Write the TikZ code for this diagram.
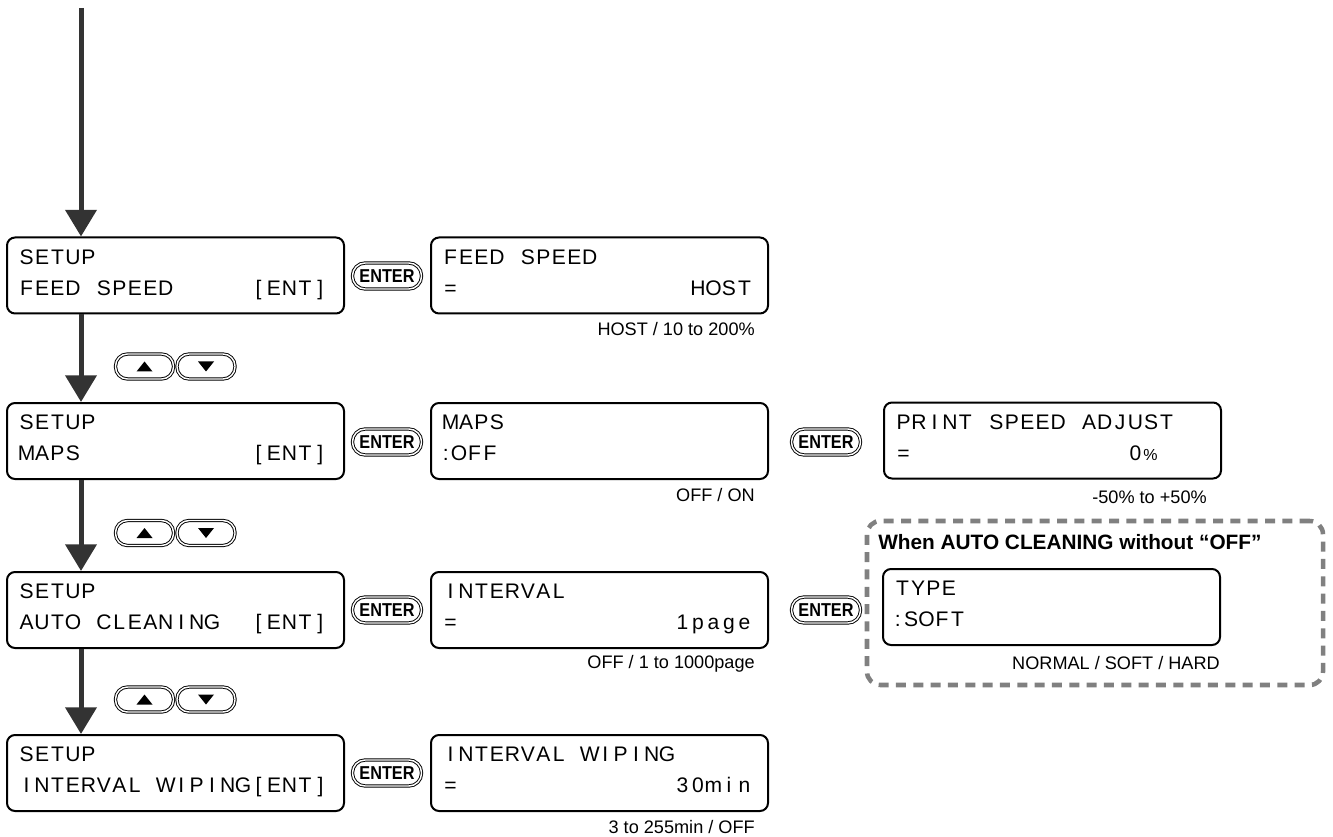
\documentclass[tikz,border=0pt]{standalone}
\usepackage{fontspec}
\setmainfont{Liberation Sans}
\usepackage{graphicx}
\usetikzlibrary{positioning,arrows.meta}

\definecolor{arrowgray}{HTML}{333333}
\definecolor{framegray}{HTML}{808080}

% one LCD character cell, '.' is a blank cell
\newlength\lcdcell
\setlength\lcdcell{11.6pt}
\newcommand\lcdfont{\fontsize{15.8pt}{23.25pt}\selectfont}
\newcommand\entertext{\scalebox{0.87}[1]{ENTER}}
\ExplSyntaxOn
\NewDocumentCommand \lcd { m }
  {
    \rule[-6.75pt]{0pt}{19.75pt}
    \str_map_inline:nn { #1 }
      {
        \str_case:nnF { ##1 }
          {
            { . } { \hspace*{\lcdcell} }
            { : } { \makebox[0.55\lcdcell][l]{:} }
          }
          { \makebox[\lcdcell][c]{##1} }
      }
  }
\ExplSyntaxOff

\begin{document}
\begin{tikzpicture}[x=0.75pt,y=-0.75pt,
  screen/.style={draw, line width=1.5pt, rounded corners=6pt, minimum width=252.75pt,
    minimum height=57pt, text width=235pt, align=left, inner sep=0pt, font=\lcdfont},
  enterkey/.style={draw, line width=0.7pt, double, double distance=1.1pt, rounded corners=9.5pt,
    minimum width=51.75pt, minimum height=19.5pt, inner sep=0pt,
    font=\bfseries\fontsize{14pt}{14pt}\selectfont},
  arrowkey/.style={draw, line width=0.7pt, double, double distance=1.1pt, rounded corners=9pt,
    minimum width=43.5pt, minimum height=18.75pt, inner sep=0pt},
  flow/.style={draw=arrowgray, line width=3.75pt, -{Triangle[width=23pt,length=20pt]}},
  note/.style={font=\fontsize{13.6pt}{15pt}\selectfont, inner sep=0pt, anchor=base east},
  condtitle/.style={font=\bfseries\fontsize{15.6pt}{18pt}\selectfont, inner sep=0pt, anchor=base west},
  dashframe/.style={draw=framegray, line width=3.4pt, dash pattern=on 7.5pt off 5.5pt, rounded corners=10pt}]
  \useasboundingbox (0,0) rectangle (1333,837);

  % setup menu, left column
  \coordinate (top) at (81,8);
  \node[screen] (setupfeed)  at (175.5,275.5) {\lcd{SETUP}\\\lcd{FEED.SPEED.....[ENT]}};
  \node[screen] (setupmaps)  at (175.5,441)   {\lcd{SETUP}\\\lcd{MAPS...........[ENT]}};
  \node[screen] (setupclean) at (175.5,610)   {\lcd{SETUP}\\\lcd{AUTO.CLEANING..[ENT]}};
  \node[screen] (setupwipe)  at (175.5,773)   {\lcd{SETUP}\\\lcd{INTERVAL.WIPING[ENT]}};

  \draw[flow] (top) -- (setupfeed.north -| top);
  \draw[flow] (setupfeed.south -| top) -- (setupmaps.north -| top);
  \draw[flow] (setupmaps.south -| top) -- (setupclean.north -| top);
  \draw[flow] (setupclean.south -| top) -- (setupwipe.north -| top);

  % up/down keys between the setup screens
  \foreach \k/\y in {a/366.5, b/533, c/699.5} {
    \node[arrowkey] (up\k) at (144.5,\y) {};
    \node[arrowkey] (down\k) at (206,\y) {};
    \fill ([shift={(-8,5)}]up\k.center) -- ++(16,0) -- ++(-8,-10) -- cycle;
    \fill ([shift={(-8,-5)}]down\k.center) -- ++(16,0) -- ++(-8,10) -- cycle;
  }

  % enter keys
  \node[enterkey] (entera) at (387,276) {\entertext};
  \node[enterkey] (enterb) at (387,442) {\entertext};
  \node[enterkey] (enterc) at (387,610) {\entertext};
  \node[enterkey] (enterd) at (387,773) {\entertext};
  \node[enterkey] (entere) at (826,442) {\entertext};
  \node[enterkey] (enterf) at (826,610) {\entertext};

  % value screens
  \node[screen] (feedspeed) at (599.5,275.5) {\lcd{FEED.SPEED}\\\lcd{=...............HOST}};
  \node[screen] (maps)      at (599.5,441)   {\lcd{MAPS}\\\lcd{:OFF}};
  \node[screen] (interval)  at (599.5,610)   {\lcd{INTERVAL}\\\lcd{=..............1page}};
  \node[screen] (wiping)    at (599.5,773)   {\lcd{INTERVAL.WIPING}\\\lcd{=..............30min}};
  \node[screen] (printspeed) at (1052.5,440.5)
    {\lcd{PRINT.SPEED.ADJUST}\\\lcd{=..............0}\makebox[\lcdcell][l]{\fontsize{12pt}{12pt}\selectfont\%}};

  \node[note] (feednote)  at ([shift={(-14,21)}]feedspeed.south east) {HOST / 10 to 200\%};
  \node[note] (mapsnote)  at ([shift={(-14,21)}]maps.south east) {OFF / ON};
  \node[note] (intnote)   at ([shift={(-14,19.5)}]interval.south east) {OFF / 1 to 1000page};
  \node[note] (wipenote)  at ([shift={(-14,21.5)}]wiping.south east) {3 to 255min / OFF};
  \node[note] (printnote) at ([shift={(-15,23.5)}]printspeed.south east) {-50\% to +50\%};

  % cleaning type, only when not OFF
  \node[dashframe, minimum width=342pt, minimum height=123pt] (cond) at (1095,603) {};
  \node[condtitle] (condtext) at (878,549.5) {When AUTO CLEANING without “OFF”};
  \node[screen] (type) at (1051.5,607) {\lcd{TYPE}\\\lcd{:SOFT}};
  \node[note] (typenote) at ([shift={(-1,23.5)}]type.south east) {NORMAL / SOFT / HARD};
\end{tikzpicture}
\end{document}
